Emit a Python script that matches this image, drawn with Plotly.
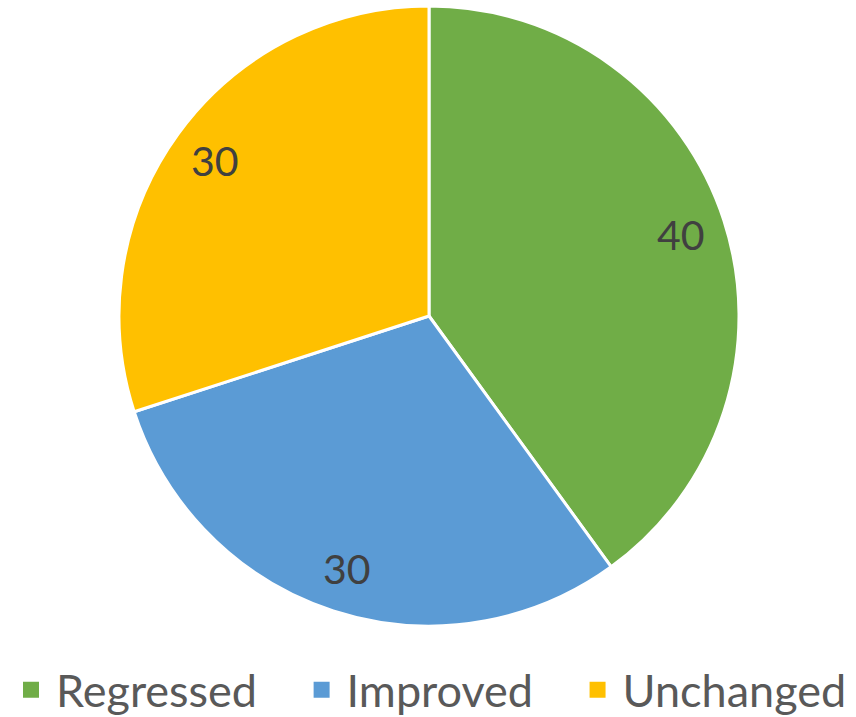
import math
import plotly.graph_objects as go

categories = ["Regressed", "Improved", "Unchanged"]
values = [40, 30, 30]
colors = ["#70AD47", "#5B9BD5", "#FFC000"]

W, H = 856, 717
cx, cy, r = 429, 316, 310  # pie centre and radius in px

fig = go.Figure()
fig.add_trace(go.Pie(
    labels=categories,
    values=values,
    sort=False,
    direction="clockwise",
    rotation=0,
    marker=dict(colors=colors, line=dict(color="white", width=3)),
    textinfo="none",
    hoverinfo="label+value",
    showlegend=False,
    domain=dict(x=[(cx - r) / W, (cx + r) / W], y=[(H - cy - r) / H, (H - cy + r) / H]),
))

# square legend keys, one per category (padded with no-break spaces for item spacing)
pad = "\u00a0" * 3
for i, (name, col) in enumerate(zip(categories, colors)):
    fig.add_trace(go.Scatter(
        x=[None], y=[None], mode="markers",
        name=name + (pad if i < len(categories) - 1 else ""),
        marker=dict(symbol="square", size=16, color=col),
        showlegend=True, hoverinfo="skip",
    ))

# value labels placed along each slice's mid-angle
total = sum(values)
acc = 0
for v in values:
    mid = (acc + v / 2) / total * 2 * math.pi
    acc += v
    lx = cx + 0.855 * r * math.sin(mid)
    ly = cy - 0.855 * r * math.cos(mid)
    fig.add_annotation(
        x=lx / W, y=1 - ly / H, xref="paper", yref="paper",
        text=str(v), showarrow=False,
        font=dict(family="Lato", size=41, color="#404040"),
        xanchor="center", yanchor="middle",
    )

fig.update_layout(
    width=W, height=H,
    margin=dict(l=0, r=0, t=0, b=0, autoexpand=False),
    paper_bgcolor="white",
    plot_bgcolor="white",
    xaxis=dict(visible=False),
    yaxis=dict(visible=False),
    showlegend=True,
    legend=dict(
        orientation="h", x=6 / W, xanchor="left", y=1 - 690 / H, yanchor="middle",
        itemwidth=40,
        font=dict(family="Lato", size=45, color="#595959"),
        traceorder="normal",
        bgcolor="rgba(0,0,0,0)",
    ),
)

fig.write_html("out.html")
